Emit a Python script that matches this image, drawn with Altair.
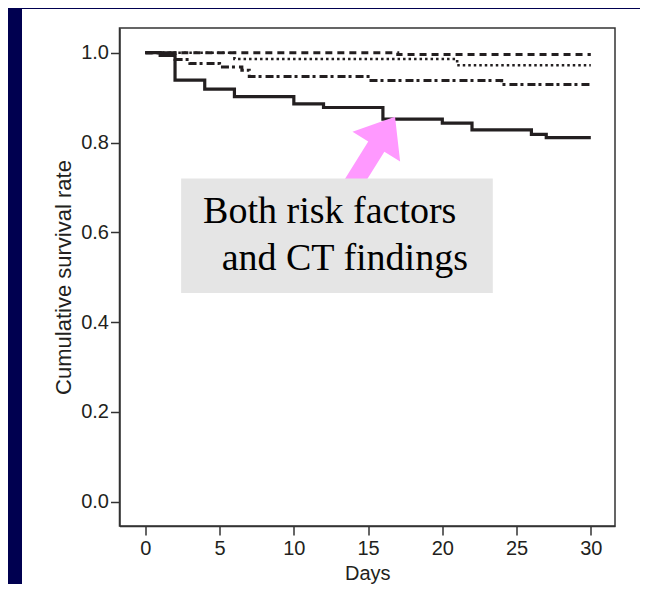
import altair as alt
import pandas as pd

# ---- data ----
both_days = [0, 1, 2, 4, 6, 10, 12, 16, 20, 22, 26, 27, 30]
both_surv = [1.0, 0.994, 0.939, 0.919, 0.902, 0.886, 0.878, 0.852, 0.843, 0.828, 0.818, 0.811, 0.811]

neither_days = [0, 17, 30]
neither_surv = [1.0, 0.996, 0.996]

dotted_days = [0, 6, 21, 30]
dotted_surv = [1.0, 0.986, 0.972, 0.972]

dashdot_days = [0, 2, 3, 5, 6.5, 7, 15, 24, 30]
dashdot_surv = [1.0, 0.985, 0.976, 0.968, 0.961, 0.947, 0.938, 0.929, 0.929]

x_ticks = [0, 5, 10, 15, 20, 25, 30]
y_ticks = [0.0, 0.2, 0.4, 0.6, 0.8, 1.0]

note_lines = ["Both risk factors", "and CT findings"]
note_x = [3.89, 5.14]
note_y = [0.621, 0.516]
box_x, box_x2, box_y, box_y2 = 2.41, 23.4, 0.465, 0.720
arrow_x, arrow_y = [15.2], [0.772]

W, H = 495.5, 498
INK = "#231f20"
xdom = [-1.74, 31.63]
ydom = [-0.054, 1.055]

xs = alt.Scale(domain=xdom, nice=False, zero=False)
ys = alt.Scale(domain=ydom, nice=False, zero=False)

one = pd.DataFrame({"a": [0]})

panel = alt.Chart(one).mark_rect(color="white").encode(
    x=alt.value(-97.5), x2=alt.value(520.5), y=alt.value(-19), y2=alt.value(556)
)
frame = alt.Chart(one).mark_rect(filled=False, stroke="#333333", strokeWidth=1.5).encode(
    x=alt.value(0), x2=alt.value(W), y=alt.value(0), y2=alt.value(H)
)

xaxis = alt.Axis(values=x_ticks, title="Days", grid=False, tickSize=9, labelPadding=3,
                 titlePadding=5, zindex=1)
yaxis = alt.Axis(values=y_ticks, format=".1f", title="Cumulative survival rate", grid=False,
                 tickSize=9, labelPadding=2, titlePadding=5, titleFontSize=22, zindex=1)


def curve(days, surv, dash, width):
    df = pd.DataFrame({"day": days, "surv": surv})
    kw = dict(interpolate="step-after", color=INK, strokeWidth=width, clip=False)
    if dash:
        kw["strokeDash"] = dash
    return alt.Chart(df).mark_line(**kw).encode(
        x=alt.X("day:Q", scale=xs, axis=xaxis),
        y=alt.Y("surv:Q", scale=ys, axis=yaxis),
    )


c_neither = curve(neither_days, neither_surv, [7, 5], 3.0)
c_dotted = curve(dotted_days, dotted_surv, [2.5, 3], 2.6)
c_dashdot = curve(dashdot_days, dashdot_surv, [8, 3, 3, 4], 3.0)
c_both = curve(both_days, both_surv, None, 3.2)

arrow_shape = "M0,-1 L0.62,-0.22 L0.21,-0.22 L0.21,1 L-0.21,1 L-0.21,-0.22 L-0.62,-0.22 Z"
arrow = alt.Chart(pd.DataFrame({"x": arrow_x, "y": arrow_y})).mark_point(
    shape=arrow_shape, filled=True, color="#FF99FF", opacity=1, size=8200, angle=32, strokeWidth=0
).encode(x=alt.X("x:Q", scale=xs), y=alt.Y("y:Q", scale=ys))

box = alt.Chart(pd.DataFrame({"x": [box_x], "x2": [box_x2], "y": [box_y], "y2": [box_y2]})).mark_rect(
    color="#e5e5e5"
).encode(x=alt.X("x:Q", scale=xs), x2="x2:Q", y=alt.Y("y:Q", scale=ys), y2="y2:Q")

note = alt.Chart(pd.DataFrame({"t": note_lines, "x": note_x, "y": note_y})).mark_text(
    font="Liberation Serif", fontSize=38, align="left", baseline="alphabetic", color="black"
).encode(x=alt.X("x:Q", scale=xs), y=alt.Y("y:Q", scale=ys), text="t:N")

chart = alt.layer(panel, frame, c_neither, c_dotted, c_dashdot, c_both, arrow, box, note).properties(
    width=W, height=H,
    background="#000050",
    autosize=alt.AutoSizeParams(type="none"),
    padding={"left": 111.5, "top": 20, "right": 25, "bottom": 58},
).configure_view(stroke=None).configure_axis(
    domainColor="#333333", domainWidth=1.5, tickColor="#333333", tickWidth=1.5,
    labelFont="Liberation Sans", labelFontSize=20, labelColor=INK,
    titleFont="Liberation Sans", titleFontSize=20, titleColor=INK, titleFontWeight="normal",
)

chart.save("out.html", embed_options={"renderer": "svg", "actions": False})
